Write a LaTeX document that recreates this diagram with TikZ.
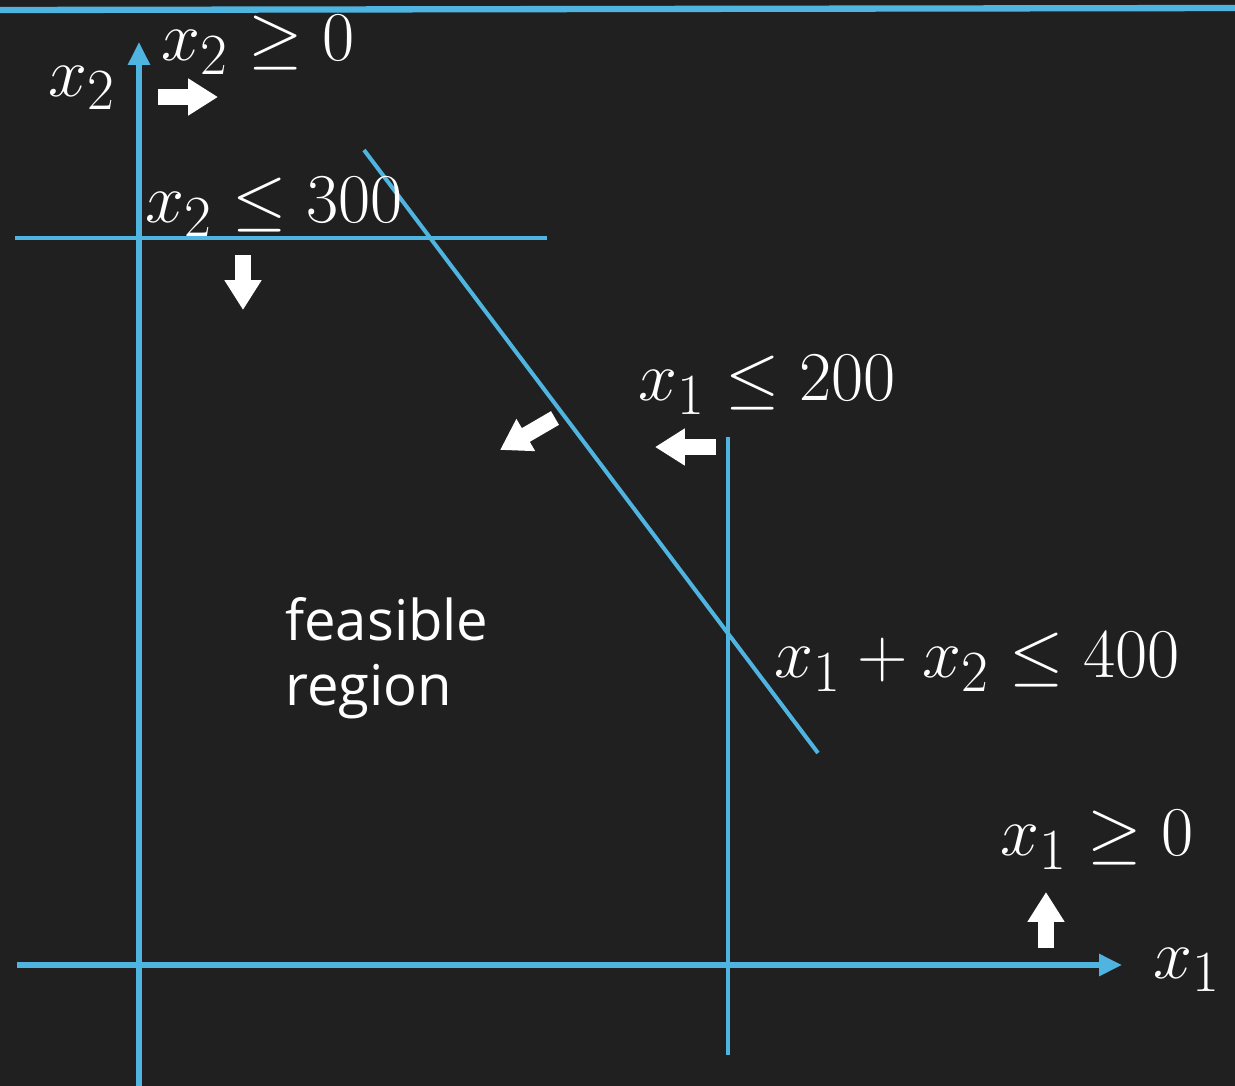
\documentclass[tikz,border=0pt]{standalone}
\usepackage{fontspec}
\setsansfont{Open Sans}
\usetikzlibrary{arrows.meta}
\definecolor{board}{RGB}{32,32,32}
\definecolor{chalkblue}{RGB}{80,180,225}
\newcommand{\mlab}[1]{\scalebox{1.6}{$#1$}}
\begin{document}
\begin{tikzpicture}[x=0.02cm, y=-0.02cm,
  ax/.style={draw=chalkblue, line width=2.9pt, -{Triangle[length=13pt, width=12pt]}},
  cl/.style={draw=chalkblue, line width=2.3pt},
  lbl/.style={text=white, inner sep=0pt, font=\fontsize{24.88}{30}\selectfont},
  push/.style={draw=white, line width=9pt, -{Triangle[length=17pt, width=20pt]}}]
\useasboundingbox (0,0) rectangle (1235,1086);
\fill[board] (0,0) rectangle (1235,1086);
\draw[chalkblue, line width=3.6pt] (0,10) -- (1235,8);
% axes
\coordinate (x2b) at (139,1086); \coordinate (x2t) at (139,42);
\coordinate (x1l) at (17,965); \coordinate (x1r) at (1122,965);
\draw[ax] (x2b) -- (x2t);
\draw[ax] (x1l) -- (x1r);
\node[lbl] (x2lab) at (82,88) {\mlab{x_2}};
\node[lbl] (x1lab) at (1187,970) {\mlab{x_1}};
% constraint lines
\coordinate (c3l) at (15,238); \coordinate (c3r) at (547,238);
\coordinate (c2t) at (728,437); \coordinate (c2b) at (728,1055);
\coordinate (c4a) at (364,150); \coordinate (c4b) at (818,753);
\draw[cl] (c3l) -- (c3r);
\draw[cl] (c2t) -- (c2b);
\draw[cl] (c4a) -- (c4b);
% labels
\node[lbl] (nn2) at (258,45) {\mlab{x_2 \geq 0}};
\node[lbl] (l300) at (274,207) {\mlab{x_2 \leq 300}};
\node[lbl] (l200) at (767,385) {\mlab{x_1 \leq 200}};
\node[lbl] (l400) at (977,662) {\mlab{x_1 + x_2 \leq 400}};
\node[lbl] (nn1) at (1097,840) {\mlab{x_1 \geq 0}};
\node[text=white, inner sep=0pt, align=left, anchor=north west,
  font=\sffamily\fontsize{32}{37}\selectfont] (feas) at (285,597) {feasible\\region};
% direction arrows
\coordinate (p1) at (158,97); \coordinate (q1) at (218,97);
\coordinate (p2) at (243,255); \coordinate (q2) at (243,310);
\coordinate (p3) at (555,418); \coordinate (q3) at (500,450);
\coordinate (p4) at (716,447); \coordinate (q4) at (655,447);
\coordinate (p5) at (1046,948); \coordinate (q5) at (1046,892);
\foreach \i in {1,...,5} \draw[push] (p\i) -- (q\i);
\end{tikzpicture}
\end{document}
